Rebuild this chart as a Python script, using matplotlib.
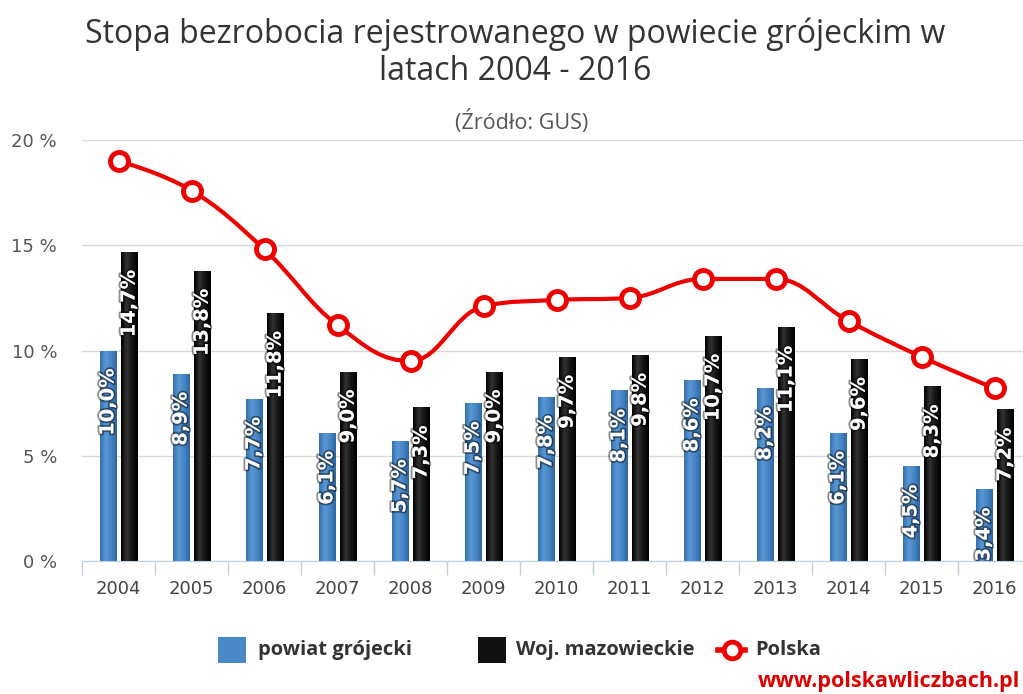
import numpy as np
import matplotlib
matplotlib.use('Agg')
import matplotlib.pyplot as plt
from matplotlib.path import Path
from matplotlib.patches import PathPatch, Rectangle
import matplotlib.patheffects as pe
from matplotlib.colors import LinearSegmentedColormap

# data
years = ['2004', '2005', '2006', '2007', '2008', '2009', '2010',
         '2011', '2012', '2013', '2014', '2015', '2016']
powiat = [10.0, 8.9, 7.7, 6.1, 5.7, 7.5, 7.8, 8.1, 8.6, 8.2, 6.1, 4.5, 3.4]
mazowieckie = [14.7, 13.8, 11.8, 9.0, 7.3, 9.0, 9.7, 9.8, 10.7, 11.1, 9.6, 8.3, 7.2]
polska = [19.0, 17.6, 14.8, 11.2, 9.5, 12.1, 12.4, 12.5, 13.4, 13.4, 11.4, 9.7, 8.2]
yticks = [0, 5, 10, 15, 20]

title = 'Stopa bezrobocia rejestrowanego w powiecie grójeckim w\nlatach 2004 - 2016'
subtitle = '(Źródło: GUS)'
series_names = ['powiat grójecki', 'Woj. mazowieckie', 'Polska']

W, H = 1023, 694
fig = plt.figure(figsize=(W / 100, H / 100), dpi=100)
ax = fig.add_axes([82 / W, (H - 561) / H, 949 / W, (561 - 140) / H])

x = np.arange(len(years))
bw = 0.22
off = 0.145

blue_cmap = LinearSegmentedColormap.from_list('b', ['#3470ae', '#5a98d4', '#4685c5', '#2f66a0'])
black_cmap = LinearSegmentedColormap.from_list('k', ['#000000', '#333333', '#141414', '#000000'])
grad = np.linspace(0, 1, 64).reshape(1, -1)


def grad_bar(ax, xc, h, cmap):
    r = Rectangle((xc - bw / 2, 0), bw, h, facecolor='none', edgecolor='none')
    ax.add_patch(r)
    im = ax.imshow(grad, cmap=cmap, aspect='auto', extent=(xc - bw / 2, xc + bw / 2, 0, h),
                   zorder=2, interpolation='bilinear')
    im.set_clip_path(r)


shadow = [pe.withStroke(linewidth=2.5, foreground=(0, 0, 0, 0.45))]
for i in range(len(years)):
    grad_bar(ax, x[i] - off, powiat[i], blue_cmap)
    grad_bar(ax, x[i] + off, mazowieckie[i], black_cmap)
    for xc, v in [(x[i] - off, powiat[i]), (x[i] + off, mazowieckie[i])]:
        ax.annotate(f'{v:.1f}%'.replace('.', ','), (xc, v), xytext=(0, -13),
                    textcoords='offset points', rotation=90, ha='center', va='top',
                    color='white', fontsize=14, fontweight='bold', family='DejaVu Sans',
                    path_effects=shadow, zorder=5, annotation_clip=False)


# Highcharts-like spline through Polska points
def spline_path(xs, ys, smoothing=1.5):
    denom = smoothing + 1
    verts = [(xs[0], ys[0])]
    codes = [Path.MOVETO]
    n = len(xs)
    ctrl = []
    for i in range(n):
        if 0 < i < n - 1:
            lx, ly = xs[i - 1], ys[i - 1]
            nx, ny = xs[i + 1], ys[i + 1]
            px, py = xs[i], ys[i]
            lcx = (smoothing * px + lx) / denom
            lcy = (smoothing * py + ly) / denom
            rcx = (smoothing * px + nx) / denom
            rcy = (smoothing * py + ny) / denom
            corr = (rcy - lcy) * (rcx - px) / (rcx - lcx) + py - rcy
            lcy += corr
            rcy += corr
            if lcy > ly and lcy > py:
                lcy = max(ly, py); rcy = 2 * py - lcy
            elif lcy < ly and lcy < py:
                lcy = min(ly, py); rcy = 2 * py - lcy
            if rcy > ny and rcy > py:
                rcy = max(ny, py); lcy = 2 * py - rcy
            elif rcy < ny and rcy < py:
                rcy = min(ny, py); lcy = 2 * py - rcy
            ctrl.append(((lcx, lcy), (rcx, rcy)))
        else:
            ctrl.append(((xs[i], ys[i]), (xs[i], ys[i])))
    for i in range(1, n):
        verts += [ctrl[i - 1][1], ctrl[i][0], (xs[i], ys[i])]
        codes += [Path.CURVE4] * 3
    return Path(verts, codes)


ax.add_patch(PathPatch(spline_path(x.astype(float), polska), facecolor='none',
                       edgecolor='#ee0000', lw=3, zorder=6, capstyle='round'))
ax.plot(x, polska, 'o', ms=13, mfc='white', mec='#ee0000', mew=3.5, zorder=7)

ax.set_xlim(-0.5, len(years) - 0.5)
ax.set_ylim(0, 20)
ax.set_yticks(yticks)
ax.set_yticklabels([f'{t} %' for t in yticks])
ax.set_xticks(x)
ax.set_xticklabels(years)
ax.set_xticks(np.arange(-0.5, len(years)), minor=True)
ax.tick_params(axis='x', which='major', length=0, pad=14, labelsize=13, colors='#444444')
ax.tick_params(axis='x', which='minor', length=10, color='#c0d0e0', width=1)
ax.tick_params(axis='y', length=0, pad=18, labelsize=13, colors='#555555')
for lbl in ax.get_yticklabels() + ax.get_xticklabels():
    lbl.set_family('DejaVu Sans')
ax.grid(axis='y', color='#d8d8d8', lw=1)
ax.set_axisbelow(True)
for s in ['top', 'right', 'left']:
    ax.spines[s].set_visible(False)
ax.spines['bottom'].set_color('#c0d0e0')
ax.spines['bottom'].set_zorder(8)

title_fonts = ['Open Sans', 'DejaVu Sans']
fig.text(515 / W, 1 - 53 / H, title, ha='center', va='center', fontsize=23,
         family=title_fonts, color='#333333', linespacing=1.15)
fig.text(522 / W, 1 - 122 / H, subtitle, ha='center', va='center', fontsize=15.5,
         family=title_fonts, color='#555555')

# legend
ly = 1 - 650 / H
legend_font = dict(ha='left', va='center', fontsize=14.5, fontweight='bold',
                   family=title_fonts, color='#333333')
fig.patches.append(Rectangle((218 / W, ly - 13 / H), 28 / W, 26 / H, transform=fig.transFigure,
                             facecolor='#4a88c8', edgecolor='none'))
fig.text(258 / W, ly, series_names[0], **legend_font)
fig.patches.append(Rectangle((478 / W, ly - 13 / H), 28 / W, 26 / H, transform=fig.transFigure,
                             facecolor='#111111', edgecolor='none'))
fig.text(516 / W, ly, series_names[1], **legend_font)
fig.lines.append(plt.Line2D([718 / W, 745 / W], [ly, ly], transform=fig.transFigure,
                            color='#ee0000', lw=4))
fig.lines.append(plt.Line2D([731.5 / W], [ly], transform=fig.transFigure, marker='o', ms=12,
                            mfc='white', mec='#ee0000', mew=3.5))
fig.text(755 / W, ly, series_names[2], **legend_font)

fig.text(1020 / W, 1 - 682 / H, 'www.polskawliczbach.pl', ha='right', va='center', fontsize=15.5,
         fontweight='bold', family=title_fonts, color='#dd0000')

fig.savefig('out.png', dpi=100)
